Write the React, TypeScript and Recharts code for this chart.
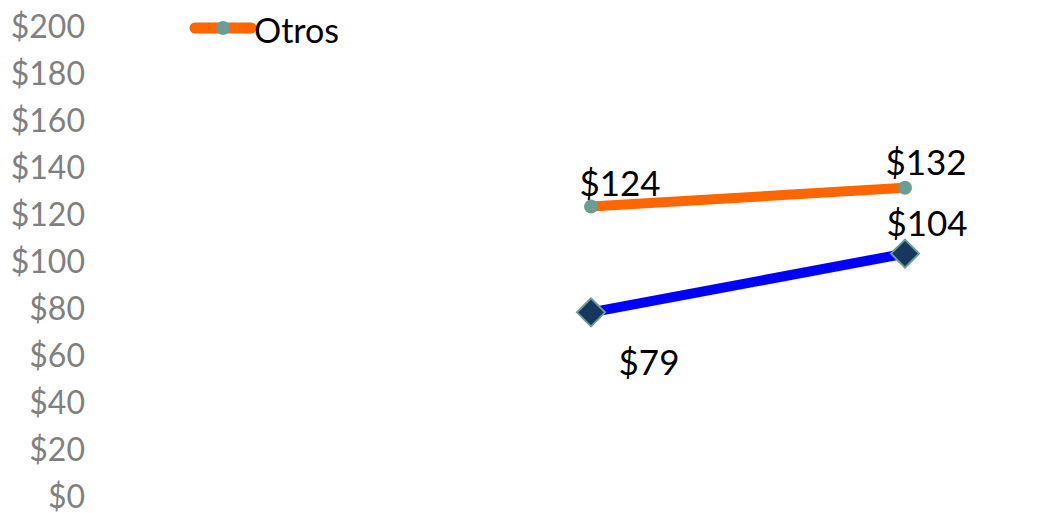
import { LineChart, Line, XAxis, YAxis, Legend, LabelList } from 'recharts'

const CATEGORIES = ['Año 1', 'Año 2']
const OTROS = [124, 132]
const PRINCIPAL = [79, 104]
const Y_TICKS = [0, 20, 40, 60, 80, 100, 120, 140, 160, 180, 200]

const data = CATEGORIES.map((c, i) => ({ cat: c, otros: OTROS[i], principal: PRINCIPAL[i] }))

const FONT = 'Lato, "Open Sans", sans-serif'

function fmtUsd(v: number) { return `$${v}` }

// label offsets (Excel-ish placement)
const OTROS_OFF = [{ dx: 29, dy: -25 }, { dx: 21, dy: -27 }]
const PRIN_OFF = [{ dx: 58, dy: 49 }, { dx: 22, dy: -32 }]

function makeLabel(offsets: { dx: number; dy: number }[]) {
  return (props: any) => {
    const { x, y, value, index } = props
    const o = offsets[index] || { dx: 0, dy: -20 }
    return (
      <text x={x + o.dx} y={y + o.dy} textAnchor="middle" dominantBaseline="central"
        fontSize={35} fontFamily={FONT} fill="#000">
        {fmtUsd(value)}
      </text>
    )
  }
}

function Diamond(props: any) {
  const { cx, cy } = props
  if (cx == null || cy == null) return null
  const r = 14
  return (
    <path d={`M${cx},${cy - r} L${cx + r},${cy} L${cx},${cy + r} L${cx - r},${cy} Z`}
      fill="#17375E" stroke="#6A9E94" strokeWidth={2} />
  )
}

function YTick(props: any) {
  const { x, y, payload } = props
  return (
    <text x={x} y={y - 3} textAnchor="end" dominantBaseline="central"
      fontSize={32} fontFamily={FONT} fill="#808080">
      {fmtUsd(payload.value)}
    </text>
  )
}

function LegendBox() {
  return (
    <svg width={170} height={40} style={{ display: 'block' }}>
      <line x1={8} y1={19} x2={64} y2={19} stroke="#FF6600" strokeWidth={11} strokeLinecap="round" />
      <circle cx={36} cy={19} r={7} fill="#6A9E94" />
      <text x={67} y={20} dominantBaseline="central" fontSize={34} fontFamily={FONT} fill="#000">Otros</text>
    </svg>
  )
}

export default function App() {
  return (
    <div style={{ position: 'absolute', left: 0, top: 0, width: 1040, height: 513, background: '#fff' }}>
      <LineChart width={1040} height={513} data={data} margin={{ top: 28, right: 0, bottom: 15, left: 0 }}>
        <XAxis dataKey="cat" hide padding={{ left: 506, right: 135 }} />
        <YAxis
          domain={[0, 200]} ticks={Y_TICKS} width={85}
          axisLine={false} tickLine={false} tickSize={0} tickMargin={0}
          tick={<YTick />}
          interval={0}
        />
        <Legend
          layout="horizontal" verticalAlign="middle" align="center"
          wrapperStyle={{ top: 9, left: 187, width: 170, height: 40 }}
          content={() => <LegendBox />}
        />
        <Line
          dataKey="principal" name="Principal" legendType="none"
          stroke="#0000FF" strokeWidth={10} dot={<Diamond />} activeDot={false}
          isAnimationActive={false}
        >
          <LabelList dataKey="principal" content={makeLabel(PRIN_OFF)} />
        </Line>
        <Line
          dataKey="otros" name="Otros"
          stroke="#FF6600" strokeWidth={10}
          dot={{ r: 7, fill: '#6A9E94', stroke: 'none' }} activeDot={false}
          isAnimationActive={false}
        >
          <LabelList dataKey="otros" content={makeLabel(OTROS_OFF)} />
        </Line>
      </LineChart>
    </div>
  )
}
